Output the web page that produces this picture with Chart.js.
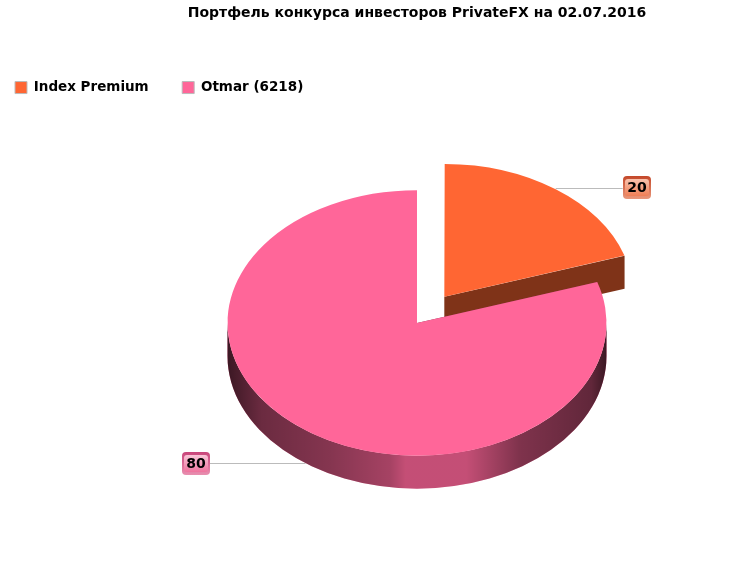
<!DOCTYPE html>
<html lang="ru">
<head>
    <meta charset="UTF-8">
    <title>PrivateFX</title>
    <script src="https://cdn.jsdelivr.net/npm/chart.js"></script>
    <style>
        html, body { margin: 0; padding: 0; background: #fff; }
        #wrap { width: 756px; height: 566px; }
    </style>
</head>
<body>
<div id="wrap"><canvas id="pie"></canvas></div>
<script>
    const titleText = "Портфель конкурса инвесторов PrivateFX на 02.07.2016";
    const categories = ["Index Premium", "Otmar (6218)"];
    const values = [20, 80];
    const sliceColors = ["#FF6633", "#FF6699"];
    const cutColors = ["#7F3318", "#7F334C"];
    const badgeTop = ["#C4482A", "#C9457A"];
    const badgeBottom = ["#E9977A", "#E98FB0"];
    const badgeLight = ["#F9C3AE", "#F9C6D8"];
    const badgeDark = ["#EE7A50", "#EE6E9A"];
    // how dark the front rim gets from left to right
    const rimShade = [[0, 0.77], [0.09, 0.58], [0.27, 0.48], [0.43, 0.35], [0.47, 0.23],
                      [0.63, 0.23], [0.77, 0.5], [0.96, 0.62], [1, 0.77]];

    const fontName = "'DejaVu Sans', sans-serif";
    const squash = 0.7;          // ellipse height / width
    const depth = 33;            // thickness of the pie
    const pieY = 323;
    const pieRadius = 189.5;
    const labelGap = [67, 96];   // leader line length per slice
    const lineNudge = [-1, 0];   // leader line y correction per slice
    const badgeNudge = [-12, -11];

    // arc draws its translate at offset / 4 and grows its radius by offset * fix
    function radiusGrowth(arc) {
        const fix = 1 - Math.sin(Math.min(Math.PI, arc.circumference || 0));
        return arc.options.offset / 4 * fix;
    }

    function tiltY(chart, y) {
        const cy = (chart.chartArea.top + chart.chartArea.bottom) / 2;
        return pieY + (y - cy) * squash;
    }

    function sliceGeometry(chart, arc) {
        const mid = (arc.startAngle + arc.endAngle) / 2;
        const off = arc.options.offset / 4;
        return {
            x: arc.x + Math.cos(mid) * off,
            y: tiltY(chart, arc.y + Math.sin(mid) * off),
            r: pieRadius,
            mid: mid
        };
    }

    const tiltPlugin = {
        id: "tilt",
        afterLayout(chart) {
            // legend gap between items is wider than its left margin
            chart.legend.left = 15 - chart.legend.options.labels.padding;
        },
        afterDatasetsUpdate(chart) {
            chart.getDatasetMeta(0).data.forEach(arc => {
                arc.outerRadius = pieRadius - radiusGrowth(arc);
            });
        },
        beforeDatasetsDraw(chart) {
            const ctx = chart.ctx;
            const arcs = chart.getDatasetMeta(0).data;
            arcs.forEach((arc, i) => {
                const g = sliceGeometry(chart, arc);
                const ry = g.r * squash;
                ctx.save();
                // radial cuts
                ctx.fillStyle = cutColors[i];
                [arc.startAngle, arc.endAngle].forEach(a => {
                    const px = g.x + Math.cos(a) * g.r;
                    const py = g.y + Math.sin(a) * ry;
                    ctx.beginPath();
                    ctx.moveTo(g.x, g.y);
                    ctx.lineTo(px, py);
                    ctx.lineTo(px, py + depth);
                    ctx.lineTo(g.x, g.y + depth);
                    ctx.closePath();
                    ctx.fill();
                });
                // front rim
                const from = Math.max(arc.startAngle, 0);
                const to = Math.min(arc.endAngle, Math.PI);
                if (to > from) {
                    const grad = ctx.createLinearGradient(g.x - g.r, 0, g.x + g.r, 0);
                    rimShade.forEach(s => grad.addColorStop(s[0], "rgba(0,0,0," + s[1] + ")"));
                    ctx.beginPath();
                    ctx.ellipse(g.x, g.y, g.r, ry, 0, from, to);
                    ctx.ellipse(g.x, g.y + depth, g.r, ry, 0, to, from, true);
                    ctx.closePath();
                    ctx.fillStyle = sliceColors[i];
                    ctx.fill();
                    ctx.fillStyle = grad;
                    ctx.fill();
                }
                ctx.restore();
            });
            ctx.save();
            const cy = (chart.chartArea.top + chart.chartArea.bottom) / 2;
            ctx.translate(0, pieY);
            ctx.scale(1, squash);
            ctx.translate(0, -cy);
        },
        afterDatasetsDraw(chart) {
            const ctx = chart.ctx;
            ctx.restore();
            const arcs = chart.getDatasetMeta(0).data;
            arcs.forEach((arc, i) => {
                const g = sliceGeometry(chart, arc);
                const sx = g.x + Math.cos(g.mid) * g.r;
                let sy = g.y + Math.sin(g.mid) * g.r * squash;
                if (Math.sin(g.mid) > 0) sy += depth;
                const right = Math.cos(g.mid) >= 0;
                const ex = sx + (right ? labelGap[i] : -labelGap[i]);
                const w = 28, h = 23;
                const lineY = Math.round(sy) + lineNudge[i];
                const bx = Math.round(right ? ex : ex - w);
                const by = lineY + badgeNudge[i];

                ctx.save();
                ctx.strokeStyle = "#BBBBBB";
                ctx.lineWidth = 1;
                ctx.beginPath();
                ctx.moveTo(sx, lineY + 0.5);
                ctx.lineTo(ex, lineY + 0.5);
                ctx.stroke();

                const outer = ctx.createLinearGradient(0, by, 0, by + h);
                outer.addColorStop(0, badgeTop[i]);
                outer.addColorStop(1, badgeBottom[i]);
                ctx.fillStyle = outer;
                ctx.beginPath();
                ctx.roundRect(bx, by, w, h, 4);
                ctx.fill();

                const inner = ctx.createLinearGradient(0, by + 3, 0, by + h - 2);
                inner.addColorStop(0, badgeLight[i]);
                inner.addColorStop(1, badgeDark[i]);
                ctx.fillStyle = inner;
                ctx.beginPath();
                ctx.roundRect(bx + 2, by + 3, w - 4, h - 6, 3);
                ctx.fill();

                ctx.fillStyle = "#000";
                ctx.font = "bold 14px " + fontName;
                ctx.textAlign = "center";
                ctx.textBaseline = "middle";
                ctx.fillText(String(values[i]), bx + w / 2, by + h / 2 + 1);
                ctx.restore();
            });
        }
    };

    new Chart(document.getElementById("pie"), {
        type: "pie",
        data: {
            labels: categories,
            datasets: [{
                data: values,
                backgroundColor: sliceColors,
                borderWidth: 0,
                offset: [186, 0],
                hoverOffset: 0,
                clip: false
            }]
        },
        options: {
            responsive: true,
            maintainAspectRatio: false,
            animation: false,
            radius: pieRadius,
            events: [],
            layout: { padding: { left: 78 } },
            plugins: {
                tooltip: { enabled: false },
                title: {
                    display: true,
                    text: titleText,
                    color: "#000",
                    font: { family: fontName, size: 14, weight: "bold" },
                    padding: { top: 5, bottom: 25.5 }
                },
                legend: {
                    position: "top",
                    align: "start",
                    labels: {
                        boxWidth: 12,
                        boxHeight: 12,
                        padding: 33.5,
                        color: "#000",
                        font: { family: fontName, size: 13.5, weight: "bold" },
                        generateLabels: (chart) => categories.map((name, i) => ({
                            text: name,
                            fillStyle: sliceColors[i],
                            strokeStyle: "#BBBBBB",
                            lineWidth: 1,
                            index: i
                        }))
                    }
                }
            }
        },
        plugins: [tiltPlugin]
    });
</script>
</body>
</html>
